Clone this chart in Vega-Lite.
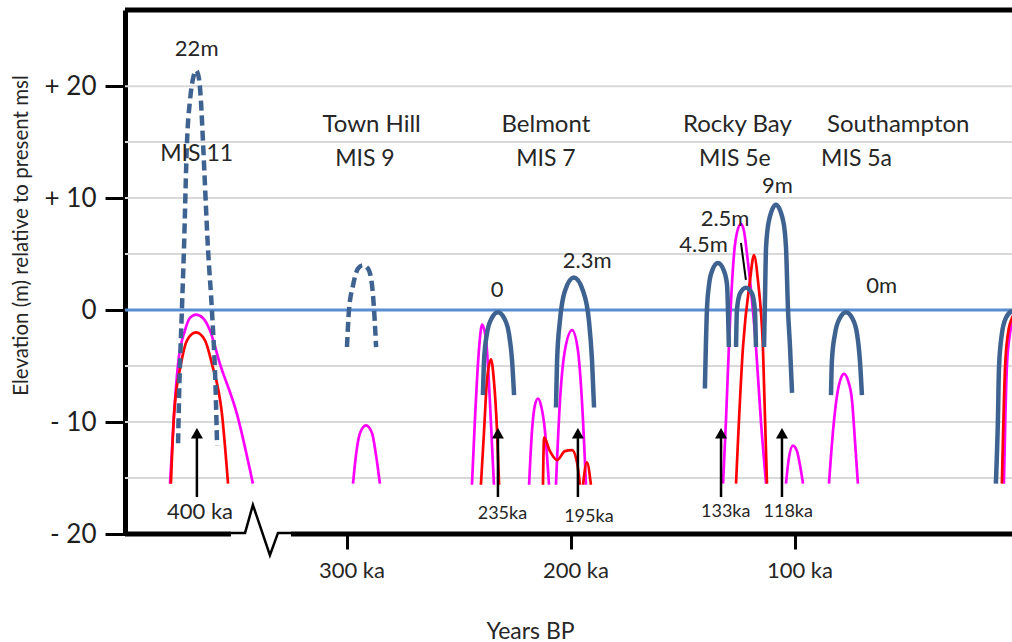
{
"$schema": "https://vega.github.io/schema/vega-lite/v6.json",
"width": 887, "height": 524,
"autosize": {"type": "none"},
"padding": {"left": 125, "top": 10, "right": 0, "bottom": 108},
"background": "white",
"config": {"view": {"stroke": null}, "font": "Lato"},
"datasets": {
"arches": [
{"id":"d11","k":"dash","ka":375.6,"m":-11.9},{"id":"d11","k":"dash","ka":375.2,"m":-8.1},{"id":"d11","k":"dash","ka":373.9,"m":0},{"id":"d11","k":"dash","ka":373.0,"m":5.3},{"id":"d11","k":"dash","ka":371.6,"m":15.1},{"id":"d11","k":"dash","ka":370.3,"m":18.7},{"id":"d11","k":"dash","ka":368.9,"m":20.7},{"id":"d11","k":"dash","ka":367.6,"m":21.4},{"id":"d11","k":"dash","ka":366.3,"m":20.7},{"id":"d11","k":"dash","ka":365.4,"m":18.7},{"id":"d11","k":"dash","ka":364.5,"m":15.1},{"id":"d11","k":"dash","ka":362.2,"m":5.3},{"id":"d11","k":"dash","ka":360.5,"m":0},{"id":"d11","k":"dash","ka":358.7,"m":-8.1},{"id":"d11","k":"dash","ka":358.2,"m":-12.1},
{"id":"d9","k":"dash","ka":300.2,"m":-3.3},{"id":"d9","k":"dash","ka":299.3,"m":0},{"id":"d9","k":"dash","ka":297.5,"m":2.2},{"id":"d9","k":"dash","ka":295.3,"m":3.7},{"id":"d9","k":"dash","ka":293.1,"m":4.0},{"id":"d9","k":"dash","ka":290.8,"m":3.7},{"id":"d9","k":"dash","ka":289.0,"m":2.2},{"id":"d9","k":"dash","ka":288.1,"m":0},{"id":"d9","k":"dash","ka":287.2,"m":-3.3},
{"id":"b7a","k":"blue","ka":239.5,"m":-7.6},{"id":"b7a","k":"blue","ka":239.0,"m":-4.5},{"id":"b7a","k":"blue","ka":237.7,"m":-2.1},{"id":"b7a","k":"blue","ka":235.5,"m":-0.7},{"id":"b7a","k":"blue","ka":232.8,"m":-0.2},{"id":"b7a","k":"blue","ka":230.1,"m":-0.7},{"id":"b7a","k":"blue","ka":227.9,"m":-2.1},{"id":"b7a","k":"blue","ka":226.5,"m":-4.5},{"id":"b7a","k":"blue","ka":225.6,"m":-7.6},
{"id":"b7b","k":"blue","ka":206.9,"m":-8.7},{"id":"b7b","k":"blue","ka":206.4,"m":-4.5},{"id":"b7b","k":"blue","ka":205.1,"m":-0.9},{"id":"b7b","k":"blue","ka":202.9,"m":1.7},{"id":"b7b","k":"blue","ka":198.9,"m":2.9},{"id":"b7b","k":"blue","ka":194.8,"m":1.7},{"id":"b7b","k":"blue","ka":192.2,"m":-0.9},{"id":"b7b","k":"blue","ka":190.8,"m":-4.5},{"id":"b7b","k":"blue","ka":189.9,"m":-8.7},
{"id":"b5a","k":"blue","ka":140.4,"m":-7.0},{"id":"b5a","k":"blue","ka":139.5,"m":0},{"id":"b5a","k":"blue","ka":138.6,"m":2.2},{"id":"b5a","k":"blue","ka":137.2,"m":3.5},{"id":"b5a","k":"blue","ka":134.6,"m":4.2},{"id":"b5a","k":"blue","ka":131.9,"m":3.5},{"id":"b5a","k":"blue","ka":130.5,"m":2.2},{"id":"b5a","k":"blue","ka":130.1,"m":0},{"id":"b5a","k":"blue","ka":129.7,"m":-3.3},
{"id":"b5b","k":"blue","ka":126.5,"m":-3.3},{"id":"b5b","k":"blue","ka":126.1,"m":0},{"id":"b5b","k":"blue","ka":124.7,"m":1.5},{"id":"b5b","k":"blue","ka":122.1,"m":2.0},{"id":"b5b","k":"blue","ka":119.4,"m":1.5},{"id":"b5b","k":"blue","ka":118.1,"m":0},{"id":"b5b","k":"blue","ka":117.6,"m":-3.3},
{"id":"b5c","k":"blue","ka":114.0,"m":-3.3},{"id":"b5c","k":"blue","ka":113.6,"m":0.8},{"id":"b5c","k":"blue","ka":113.1,"m":5.6},{"id":"b5c","k":"blue","ka":111.8,"m":8.0},{"id":"b5c","k":"blue","ka":108.7,"m":9.4},{"id":"b5c","k":"blue","ka":105.5,"m":8.0},{"id":"b5c","k":"blue","ka":104.2,"m":5.6},{"id":"b5c","k":"blue","ka":103.3,"m":0},{"id":"b5c","k":"blue","ka":102.4,"m":-3.3},{"id":"b5c","k":"blue","ka":101.5,"m":-7.4},
{"id":"b5s","k":"blue","ka":84.1,"m":-7.6},{"id":"b5s","k":"blue","ka":83.7,"m":-4.5},{"id":"b5s","k":"blue","ka":82.3,"m":-2.1},{"id":"b5s","k":"blue","ka":80.1,"m":-0.7},{"id":"b5s","k":"blue","ka":77.4,"m":-0.2},{"id":"b5s","k":"blue","ka":74.7,"m":-0.7},{"id":"b5s","k":"blue","ka":72.5,"m":-2.1},{"id":"b5s","k":"blue","ka":71.2,"m":-4.5},{"id":"b5s","k":"blue","ka":70.3,"m":-7.6},
{"id":"b1","k":"blue","ka":10.5,"m":-15.5},{"id":"b1","k":"blue","ka":9.6,"m":-9.9},{"id":"b1","k":"blue","ka":9.1,"m":-5.1},{"id":"b1","k":"blue","ka":7.8,"m":-2.1},{"id":"b1","k":"blue","ka":6.0,"m":-0.7},{"id":"b1","k":"blue","ka":3.3,"m":-0.1},{"id":"b1","k":"blue","ka":0.6,"m":0},
{"id":"m11","k":"mag","ka":379.2,"m":-15.5},{"id":"m11","k":"mag","ka":377.4,"m":-9.3},{"id":"m11","k":"mag","ka":375.6,"m":-4.8},{"id":"m11","k":"mag","ka":372.5,"m":-1.8},{"id":"m11","k":"mag","ka":370.3,"m":-0.7},{"id":"m11","k":"mag","ka":367.6,"m":-0.4},{"id":"m11","k":"mag","ka":364.5,"m":-0.7},{"id":"m11","k":"mag","ka":361.4,"m":-1.8},{"id":"m11","k":"mag","ka":356.9,"m":-4.8},{"id":"m11","k":"mag","ka":349.3,"m":-9.3},{"id":"m11","k":"mag","ka":342.2,"m":-15.5},
{"id":"m9","k":"mag","ka":297.5,"m":-15.5},{"id":"m9","k":"mag","ka":296.2,"m":-13.0},{"id":"m9","k":"mag","ka":294.4,"m":-11.0},{"id":"m9","k":"mag","ka":291.7,"m":-10.3},{"id":"m9","k":"mag","ka":289.0,"m":-11.0},{"id":"m9","k":"mag","ka":287.2,"m":-13.0},{"id":"m9","k":"mag","ka":285.5,"m":-15.5},
{"id":"m7a","k":"mag","ka":244.4,"m":-15.6},{"id":"m7a","k":"mag","ka":243.1,"m":-9.9},{"id":"m7a","k":"mag","ka":241.3,"m":-3.6},{"id":"m7a","k":"mag","ka":239.9,"m":-1.3},{"id":"m7a","k":"mag","ka":238.1,"m":-2.7},{"id":"m7a","k":"mag","ka":236.4,"m":-8.1},{"id":"m7a","k":"mag","ka":234.6,"m":-15.6},
{"id":"m7b","k":"mag","ka":218.9,"m":-15.6},{"id":"m7b","k":"mag","ka":217.6,"m":-10.8},{"id":"m7b","k":"mag","ka":216.3,"m":-8.5},{"id":"m7b","k":"mag","ka":214.9,"m":-7.9},{"id":"m7b","k":"mag","ka":213.6,"m":-8.5},{"id":"m7b","k":"mag","ka":211.8,"m":-10.8},{"id":"m7b","k":"mag","ka":210.0,"m":-15.6},
{"id":"m7c","k":"mag","ka":206.9,"m":-15.6},{"id":"m7c","k":"mag","ka":205.1,"m":-8.1},{"id":"m7c","k":"mag","ka":202.9,"m":-3.6},{"id":"m7c","k":"mag","ka":199.7,"m":-1.8},{"id":"m7c","k":"mag","ka":197.1,"m":-3.6},{"id":"m7c","k":"mag","ka":195.3,"m":-8.1},{"id":"m7c","k":"mag","ka":193.5,"m":-15.6},
{"id":"m5e","k":"mag","ka":132.3,"m":-15.5},{"id":"m5e","k":"mag","ka":131.0,"m":-9.9},{"id":"m5e","k":"mag","ka":129.7,"m":-3.3},{"id":"m5e","k":"mag","ka":127.4,"m":5.0},{"id":"m5e","k":"mag","ka":126.1,"m":6.9},{"id":"m5e","k":"mag","ka":124.3,"m":7.7},{"id":"m5e","k":"mag","ka":123.0,"m":7.1},{"id":"m5e","k":"mag","ka":121.6,"m":5.0},{"id":"m5e","k":"mag","ka":117.6,"m":-3.3},{"id":"m5e","k":"mag","ka":115.4,"m":-9.9},{"id":"m5e","k":"mag","ka":113.1,"m":-15.5},
{"id":"m5b","k":"mag","ka":104.2,"m":-15.5},{"id":"m5b","k":"mag","ka":102.9,"m":-13.2},{"id":"m5b","k":"mag","ka":101.1,"m":-12.1},{"id":"m5b","k":"mag","ka":99.3,"m":-12.6},{"id":"m5b","k":"mag","ka":98.0,"m":-13.8},{"id":"m5b","k":"mag","ka":96.6,"m":-15.5},
{"id":"m5a","k":"mag","ka":85.0,"m":-15.5},{"id":"m5a","k":"mag","ka":83.2,"m":-10.8},{"id":"m5a","k":"mag","ka":81.4,"m":-7.6},{"id":"m5a","k":"mag","ka":79.7,"m":-6.1},{"id":"m5a","k":"mag","ka":78.3,"m":-5.7},{"id":"m5a","k":"mag","ka":76.5,"m":-6.3},{"id":"m5a","k":"mag","ka":74.7,"m":-8.1},{"id":"m5a","k":"mag","ka":73.4,"m":-11.7},{"id":"m5a","k":"mag","ka":72.1,"m":-15.5},
{"id":"m1","k":"mag","ka":6.9,"m":-15.5},{"id":"m1","k":"mag","ka":5.6,"m":-5.1},{"id":"m1","k":"mag","ka":4.2,"m":-2.1},{"id":"m1","k":"mag","ka":2.4,"m":-0.7},
{"id":"r11","k":"red","ka":378.8,"m":-15.5},{"id":"r11","k":"red","ka":377.4,"m":-9.3},{"id":"r11","k":"red","ka":374.3,"m":-4.8},{"id":"r11","k":"red","ka":371.6,"m":-2.7},{"id":"r11","k":"red","ka":367.6,"m":-2.0},{"id":"r11","k":"red","ka":363.6,"m":-2.7},{"id":"r11","k":"red","ka":360.5,"m":-4.8},{"id":"r11","k":"red","ka":356.0,"m":-9.3},{"id":"r11","k":"red","ka":353.3,"m":-15.5},
{"id":"r7a","k":"red","ka":240.4,"m":-15.6},{"id":"r7a","k":"red","ka":239.0,"m":-10.8},{"id":"r7a","k":"red","ka":237.7,"m":-6.3},{"id":"r7a","k":"red","ka":235.9,"m":-4.4},{"id":"r7a","k":"red","ka":234.6,"m":-6.3},{"id":"r7a","k":"red","ka":233.2,"m":-10.8},{"id":"r7a","k":"red","ka":232.3,"m":-15.6},
{"id":"r7b","k":"red","ka":212.7,"m":-15.6},{"id":"r7b","k":"red","ka":212.2,"m":-11.4},{"id":"r7b","k":"red","ka":209.6,"m":-12.6},{"id":"r7b","k":"red","ka":206.4,"m":-13.4},{"id":"r7b","k":"red","ka":202.9,"m":-12.6},{"id":"r7b","k":"red","ka":199.7,"m":-12.5},{"id":"r7b","k":"red","ka":197.5,"m":-13.6},{"id":"r7b","k":"red","ka":196.2,"m":-15.6},
{"id":"r7c","k":"red","ka":194.8,"m":-15.6},{"id":"r7c","k":"red","ka":193.1,"m":-13.6},{"id":"r7c","k":"red","ka":191.3,"m":-15.6},
{"id":"r5e","k":"red","ka":126.5,"m":-15.5},{"id":"r5e","k":"red","ka":123.4,"m":-3.3},{"id":"r5e","k":"red","ka":120.3,"m":2.6},{"id":"r5e","k":"red","ka":118.5,"m":4.9},{"id":"r5e","k":"red","ka":116.7,"m":2.6},{"id":"r5e","k":"red","ka":114.5,"m":-3.3},{"id":"r5e","k":"red","ka":112.7,"m":-15.5},
{"id":"r1","k":"red","ka":7.8,"m":-15.5},{"id":"r1","k":"red","ka":6.4,"m":-5.1},{"id":"r1","k":"red","ka":5.1,"m":-2.1},{"id":"r1","k":"red","ka":3.3,"m":-0.7},{"id":"r1","k":"red","ka":1.5,"m":-0.2}
],
"grid": [{"m":-15},{"m":-10},{"m":-5},{"m":5},{"m":10},{"m":15},{"m":20}],
"zero": [{"m":0}],
"arrows": [{"ka":367.2,"base":-16.7,"tip":-11.0},{"ka":232.8,"base":-16.7,"tip":-11.0},{"ka":197.1,"base":-16.7,"tip":-11.0},{"ka":133.2,"base":-16.7,"tip":-11.0},{"ka":106.0,"base":-16.7,"tip":-11.0}],
"pointer": [{"ka":124.3,"m":6.0},{"ka":122.1,"m":2.7}],
"bottom": [{"from":399.3,"to":352.0},{"from":325.2,"to":3.3}],
"zig": [{"ka":352.0,"m":-19.9},{"ka":345.7,"m":-19.9},{"ka":342.2,"m":-17.4},{"ka":334.6,"m":-21.9},{"ka":331.0,"m":-19.9},{"ka":325.2,"m":-19.9}],
"tbig": [{"t":"Town Hill","ka":289.2,"m":15.9},{"t":"Belmont","ka":211.4,"m":15.9},{"t":"Rocky Bay","ka":125.9,"m":15.9},{"t":"Southampton","ka":54.1,"m":15.9}],
"tmis": [{"t":"MIS 11","ka":367.3,"m":13.3},{"t":"MIS 9","ka":292.2,"m":12.9},{"t":"MIS 7","ka":211.4,"m":12.9},{"t":"MIS 5e","ka":127.0,"m":12.9},{"t":"MIS 5a","ka":72.7,"m":12.9}],
"tmed": [{"t":"22m","ka":367.3,"m":22.7},{"t":"0","ka":233.2,"m":1.2},{"t":"2.3m","ka":193.0,"m":3.8},{"t":"2.5m","ka":131.4,"m":7.5},{"t":"4.5m","ka":141.0,"m":5.2},{"t":"9m","ka":108.0,"m":10.5},{"t":"0m","ka":61.5,"m":1.5},{"t":"400 ka","ka":365.8,"m":-18.7}],
"tsmall": [{"t":"235ka","ka":230.8,"m":-18.7},{"t":"195ka","ka":192.2,"m":-18.9},{"t":"133ka","ka":131.1,"m":-18.5},{"t":"118ka","ka":103.2,"m":-18.5}]
},
"layer": [
{"data": {"name": "grid"}, "mark": {"type": "rule", "color": "#d9d9d9", "strokeWidth": 2},
 "encoding": {"y": {"field": "m", "type": "quantitative", "scale": {"domain": [-20, 26.8], "nice": false, "zero": false},
  "axis": {"values": [-20, -10, 0, 10, 20], "labelExpr": "datum.value > 0 ? '+ ' + datum.value : (datum.value < 0 ? '- ' + abs(datum.value) : '0')", "grid": false, "domain": true, "domainColor": "#000000", "domainWidth": 5, "ticks": true, "tickColor": "#000000", "tickSize": 20, "tickWidth": 3, "labelFont": "Lato", "labelFontSize": 26, "labelColor": "#1e1e1e", "labelPadding": 9, "title": "Elevation (m) relative to present  msl", "titleFont": "Lato", "titleFontSize": 20.5, "titleFontWeight": "normal", "titleColor": "#262626", "titleX": -104, "titleY": 225, "titleAlign": "center", "titleBaseline": "middle"}}}},
{"data": {"name": "zero"}, "mark": {"type": "rule", "color": "#5a8ed2", "strokeWidth": 3},
 "encoding": {"y": {"field": "m", "type": "quantitative", "scale": {"domain": [-20, 26.8], "nice": false, "zero": false}}}},
{"data": {"name": "arches"}, "transform": [{"filter": "datum.k === 'mag'"}], "mark": {"type": "line", "color": "#ff00ff", "strokeWidth": 2.7, "interpolate": "monotone", "clip": true},
 "encoding": {"x": {"field": "ka", "type": "quantitative", "scale": {"domain": [3.3, 399.3], "reverse": true, "nice": false, "zero": false}},
  "y": {"field": "m", "type": "quantitative", "scale": {"domain": [-20, 26.8], "nice": false, "zero": false}},
  "detail": {"field": "id"}, "order": {"field": "ka", "sort": "descending"}}},
{"data": {"name": "arches"}, "transform": [{"filter": "datum.k === 'red'"}], "mark": {"type": "line", "color": "#ff0000", "strokeWidth": 2.7, "interpolate": "monotone", "clip": true},
 "encoding": {"x": {"field": "ka", "type": "quantitative", "scale": {"domain": [3.3, 399.3], "reverse": true, "nice": false, "zero": false}},
  "y": {"field": "m", "type": "quantitative", "scale": {"domain": [-20, 26.8], "nice": false, "zero": false}},
  "detail": {"field": "id"}, "order": {"field": "ka", "sort": "descending"}}},
{"data": {"name": "arches"}, "transform": [{"filter": "datum.k === 'blue'"}], "mark": {"type": "line", "color": "#3f6391", "strokeWidth": 4.5, "interpolate": "monotone", "clip": true},
 "encoding": {"x": {"field": "ka", "type": "quantitative", "scale": {"domain": [3.3, 399.3], "reverse": true, "nice": false, "zero": false}},
  "y": {"field": "m", "type": "quantitative", "scale": {"domain": [-20, 26.8], "nice": false, "zero": false}},
  "detail": {"field": "id"}, "order": {"field": "ka", "sort": "descending"}}},
{"data": {"name": "arches"}, "transform": [{"filter": "datum.k === 'dash'"}], "mark": {"type": "line", "color": "#3f6391", "strokeWidth": 4.5, "strokeDash": [10, 5], "interpolate": "monotone", "clip": true},
 "encoding": {"x": {"field": "ka", "type": "quantitative", "scale": {"domain": [3.3, 399.3], "reverse": true, "nice": false, "zero": false}},
  "y": {"field": "m", "type": "quantitative", "scale": {"domain": [-20, 26.8], "nice": false, "zero": false}},
  "detail": {"field": "id"}, "order": {"field": "ka", "sort": "descending"}}},
{"data": {"name": "pointer"}, "mark": {"type": "line", "color": "#000000", "strokeWidth": 2},
 "encoding": {"x": {"field": "ka", "type": "quantitative", "scale": {"domain": [3.3, 399.3], "reverse": true, "nice": false, "zero": false}},
  "y": {"field": "m", "type": "quantitative", "scale": {"domain": [-20, 26.8], "nice": false, "zero": false}}}},
{"data": {"name": "arrows"}, "mark": {"type": "rule", "color": "#000000", "strokeWidth": 2.5},
 "encoding": {"x": {"field": "ka", "type": "quantitative", "scale": {"domain": [3.3, 399.3], "reverse": true, "nice": false, "zero": false}},
  "y": {"field": "base", "type": "quantitative", "scale": {"domain": [-20, 26.8], "nice": false, "zero": false}},
  "y2": {"field": "tip"}}},
{"data": {"name": "arrows"}, "mark": {"type": "point", "shape": "triangle-up", "filled": true, "color": "#000000", "size": 144, "opacity": 1},
 "encoding": {"x": {"field": "ka", "type": "quantitative", "scale": {"domain": [3.3, 399.3], "reverse": true, "nice": false, "zero": false}},
  "y": {"field": "tip", "type": "quantitative", "scale": {"domain": [-20, 26.8], "nice": false, "zero": false}}}},
{"data": {"values": [{"m": 26.8}]}, "mark": {"type": "rule", "color": "#000000", "strokeWidth": 5},
 "encoding": {"y": {"field": "m", "type": "quantitative", "scale": {"domain": [-20, 26.8], "nice": false, "zero": false}}}},
{"data": {"name": "bottom"}, "mark": {"type": "rule", "color": "#000000", "strokeWidth": 5},
 "encoding": {"x": {"field": "from", "type": "quantitative", "scale": {"domain": [3.3, 399.3], "reverse": true, "nice": false, "zero": false},
   "axis": {"values": [300, 200, 100], "labelExpr": "datum.value + ' ka'", "domain": false, "grid": false, "ticks": true, "tickColor": "#000000", "tickSize": 15, "tickWidth": 3, "labelFont": "Lato", "labelFontSize": 22, "labelColor": "#262626", "labelBaseline": "alphabetic", "labelPadding": 28, "labelOffset": 4, "title": "Years BP", "titleFont": "Lato", "titleFontSize": 23, "titleFontWeight": "normal", "titleColor": "#262626", "titleX": 405, "titleY": 104, "titleAlign": "center", "titleBaseline": "alphabetic"}},
  "x2": {"field": "to"},
  "y": {"datum": -20, "type": "quantitative", "scale": {"domain": [-20, 26.8], "nice": false, "zero": false}}}},
{"data": {"name": "zig"}, "mark": {"type": "line", "color": "#000000", "strokeWidth": 2.5},
 "encoding": {"x": {"field": "ka", "type": "quantitative", "scale": {"domain": [3.3, 399.3], "reverse": true, "nice": false, "zero": false}},
  "y": {"field": "m", "type": "quantitative", "scale": {"domain": [-20, 26.8], "nice": false, "zero": false}},
  "order": {"field": "ka", "sort": "descending"}}},
{"data": {"name": "tbig"}, "mark": {"type": "text", "font": "Lato", "fontSize": 24, "color": "#262626", "align": "center", "baseline": "alphabetic"},
 "encoding": {"x": {"field": "ka", "type": "quantitative", "scale": {"domain": [3.3, 399.3], "reverse": true, "nice": false, "zero": false}},
  "y": {"field": "m", "type": "quantitative", "scale": {"domain": [-20, 26.8], "nice": false, "zero": false}},
  "text": {"field": "t"}}},
{"data": {"name": "tmis"}, "mark": {"type": "text", "font": "Lato", "fontSize": 23, "color": "#262626", "align": "center", "baseline": "alphabetic"},
 "encoding": {"x": {"field": "ka", "type": "quantitative", "scale": {"domain": [3.3, 399.3], "reverse": true, "nice": false, "zero": false}},
  "y": {"field": "m", "type": "quantitative", "scale": {"domain": [-20, 26.8], "nice": false, "zero": false}},
  "text": {"field": "t"}}},
{"data": {"name": "tmed"}, "mark": {"type": "text", "font": "Lato", "fontSize": 22, "color": "#262626", "align": "center", "baseline": "alphabetic"},
 "encoding": {"x": {"field": "ka", "type": "quantitative", "scale": {"domain": [3.3, 399.3], "reverse": true, "nice": false, "zero": false}},
  "y": {"field": "m", "type": "quantitative", "scale": {"domain": [-20, 26.8], "nice": false, "zero": false}},
  "text": {"field": "t"}}},
{"data": {"name": "tsmall"}, "mark": {"type": "text", "font": "Lato", "fontSize": 18, "color": "#262626", "align": "center", "baseline": "alphabetic"},
 "encoding": {"x": {"field": "ka", "type": "quantitative", "scale": {"domain": [3.3, 399.3], "reverse": true, "nice": false, "zero": false}},
  "y": {"field": "m", "type": "quantitative", "scale": {"domain": [-20, 26.8], "nice": false, "zero": false}},
  "text": {"field": "t"}}}
]
}
